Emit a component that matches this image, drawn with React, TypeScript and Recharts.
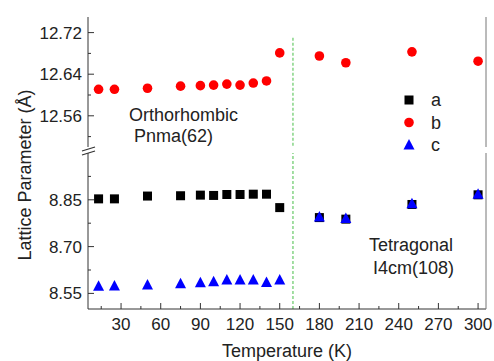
import React from 'react';
import { ScatterChart, Scatter, XAxis, YAxis, ReferenceLine, Legend } from 'recharts';

const temperatures = [13, 25, 50, 75, 90, 100, 110, 120, 130, 140, 150, 180, 200, 250, 300];
const paramA = [8.853, 8.853, 8.862, 8.863, 8.865, 8.864, 8.867, 8.867, 8.868, 8.868, 8.825, 8.793, 8.788, 8.835, 8.866];
const paramB = [12.611, 12.611, 12.613, 12.617, 12.618, 12.619, 12.621, 12.619, 12.623, 12.627, 12.681, 12.675, 12.662, 12.683, 12.665];
const paramC = [8.573, 8.574, 8.577, 8.581, 8.584, 8.587, 8.593, 8.593, 8.593, 8.585, 8.593, 8.795, 8.79, 8.837, 8.868];

const xMajor = [30, 60, 90, 120, 150, 180, 210, 240, 270, 300];
const xMinor = [15, 45, 75, 105, 135, 165, 195, 225, 255, 285];
const topMajor = [12.56, 12.64, 12.72];
const topMinor = [12.52, 12.6, 12.68];
const botMajor = [8.55, 8.7, 8.85];
const botMinor = [8.625, 8.775, 8.925];

const legendItems = [
  { key: 'a', color: '#000000', shape: 'square' },
  { key: 'b', color: '#ff0000', shape: 'circle' },
  { key: 'c', color: '#0000ff', shape: 'triangle' },
];

const W = 494;
const H = 361;
const PLOT_LEFT = 88;
const PLOT_BOTTOM = 309;
const X_DOMAIN: [number, number] = [5, 306];
const AXIS = '#333';
const FRAME = '#777';
const TEXT = '#222';
const FONT = '"Liberation Sans", Arial, sans-serif';

const toPoints = (vals: number[]) => temperatures.map((t, i) => ({ t, v: vals[i] }));
const dataA = toPoints(paramA);
const dataB = toPoints(paramB);
const dataC = toPoints(paramC);

const isIn = (list: number[], v: number) => list.some((m) => Math.abs(m - v) < 1e-6);

const makeYTick = (majors: number[]) => (props: any) => {
  const { y, payload } = props;
  const major = isIn(majors, payload.value);
  return (
    <g>
      <line x1={PLOT_LEFT} x2={PLOT_LEFT + (major ? 6 : 3)} y1={y} y2={y} stroke={AXIS} />
      {major && (
        <text x={PLOT_LEFT - 6} y={y + 6} textAnchor="end" fontSize={17} fill={TEXT}>
          {payload.value.toFixed(2)}
        </text>
      )}
    </g>
  );
};

const XTick = (props: any) => {
  const { x, payload } = props;
  const major = isIn(xMajor, payload.value);
  return (
    <g>
      <line x1={x} x2={x} y1={PLOT_BOTTOM} y2={PLOT_BOTTOM - (major ? 6 : 3)} stroke={AXIS} />
      {major && (
        <text x={x} y={PLOT_BOTTOM + 21} textAnchor="middle" fontSize={17} fill={TEXT}>
          {payload.value}
        </text>
      )}
    </g>
  );
};

const Marker = ({ shape, cx, cy, color }: { shape: string; cx: number; cy: number; color: string }) => {
  if (shape === 'square') return <rect x={cx - 4.5} y={cy - 4.5} width={9} height={9} fill={color} />;
  if (shape === 'circle') return <circle cx={cx} cy={cy} r={4.8} fill={color} />;
  return <polygon points={`${cx},${cy - 6} ${cx + 5.5},${cy + 4.5} ${cx - 5.5},${cy + 4.5}`} fill={color} />;
};

const LegendBox = () => (
  <svg width={60} height={70}>
    {legendItems.map((it, i) => (
      <g key={it.key}>
        <Marker shape={it.shape} cx={8} cy={10 + i * 22.5} color={it.color} />
        <text x={30} y={10 + i * 22.5 + 6} fontSize={18} fill={TEXT} fontFamily={FONT}>
          {it.key}
        </text>
      </g>
    ))}
  </svg>
);

export default function App() {
  const allX = [...xMinor, ...xMajor].sort((a, b) => a - b);
  return (
    <div style={{ position: 'absolute', left: 0, top: 0, width: W, height: H, background: '#fff', fontFamily: FONT }}>
      {/* lower segment (a, c) with the shared x axis */}
      <div style={{ position: 'absolute', left: 0, top: 0 }}>
        <ScatterChart width={W} height={H} margin={{ top: 153, right: 0, bottom: 0, left: 0 }}>
          <XAxis
            dataKey="t"
            type="number"
            domain={X_DOMAIN}
            ticks={allX}
            interval={0}
            height={52}
            tickLine={false}
            tick={XTick}
            stroke={AXIS}
            label={{ value: 'Temperature (K)', position: 'insideBottom', offset: 4, fontSize: 18, fill: TEXT }}
          />
          <YAxis
            dataKey="v"
            type="number"
            domain={[8.5, 9.0]}
            ticks={[...botMinor, ...botMajor].sort((a, b) => a - b)}
            interval={0}
            width={PLOT_LEFT}
            tickLine={false}
            tick={makeYTick(botMajor)}
            stroke={AXIS}
          />
          <YAxis yAxisId="frame" orientation="right" type="number" domain={[8.5, 9.0]} width={8} tick={false} tickLine={false} stroke={FRAME} />
          <ReferenceLine x={160} stroke="#85d485" strokeWidth={1.5} strokeDasharray="3 2" />
          <Scatter
            name="a"
            data={dataA}
            fill="#000000"
            isAnimationActive={false}
            shape={(p: any) => <Marker shape="square" cx={p.cx} cy={p.cy} color="#000000" />}
          />
          <Scatter
            name="c"
            data={dataC}
            fill="#0000ff"
            isAnimationActive={false}
            shape={(p: any) => <Marker shape="triangle" cx={p.cx} cy={p.cy} color="#0000ff" />}
          />
        </ScatterChart>
      </div>

      {/* upper segment (b) */}
      <div style={{ position: 'absolute', left: 0, top: 0 }}>
        <ScatterChart width={W} height={150} margin={{ top: 17, right: 0, bottom: 3, left: 0 }}>
          <XAxis dataKey="t" type="number" domain={X_DOMAIN} hide />
          <XAxis xAxisId="frame" orientation="top" type="number" domain={X_DOMAIN} height={0} tick={false} tickLine={false} stroke={FRAME} />
          <YAxis
            dataKey="v"
            type="number"
            domain={[12.5, 12.75]}
            ticks={[...topMinor, ...topMajor].sort((a, b) => a - b)}
            interval={0}
            width={PLOT_LEFT}
            tickLine={false}
            tick={makeYTick(topMajor)}
            stroke={AXIS}
          />
          <YAxis yAxisId="frame" orientation="right" type="number" domain={[12.5, 12.75]} width={8} tick={false} tickLine={false} stroke={FRAME} />
          <ReferenceLine
            segment={[{ x: 160, y: 12.71 }, { x: 160, y: 12.5 }]}
            stroke="#85d485"
            strokeWidth={1.5}
            strokeDasharray="3 2"
          />
          <Scatter
            name="b"
            data={dataB}
            fill="#ff0000"
            isAnimationActive={false}
            shape={(p: any) => <Marker shape="circle" cx={p.cx} cy={p.cy} color="#ff0000" />}
          />
          <Legend
            layout="horizontal"
            verticalAlign="middle"
            align="center"
            content={() => <LegendBox />}
            wrapperStyle={{ left: 401, top: 90, width: 60 }}
          />
        </ScatterChart>
      </div>

      {/* axis break marks */}
      <svg style={{ position: 'absolute', left: 78, top: 142 }} width={22} height={18}>
        <polygon points="4,9 17,5 17,9 4,13" fill="#fff" />
        <line x1={4} y1={9} x2={17} y2={5} stroke={AXIS} strokeWidth={1.2} />
        <line x1={4} y1={13} x2={17} y2={9} stroke={AXIS} strokeWidth={1.2} />
      </svg>

      <div
        style={{
          position: 'absolute',
          left: 25,
          top: 175,
          transform: 'translate(-50%, -50%) rotate(-90deg)',
          whiteSpace: 'nowrap',
          fontSize: 18,
          color: TEXT,
        }}
      >
        Lattice Parameter (Å)
      </div>

      <div style={{ position: 'absolute', left: 129, top: 105, fontSize: 18, lineHeight: '21px', color: TEXT }}>
        <div>Orthorhombic</div>
        <div style={{ paddingLeft: 5 }}>Pnma(62)</div>
      </div>

      <div style={{ position: 'absolute', left: 369, top: 234, fontSize: 18, lineHeight: '23px', color: TEXT }}>
        <div>Tetragonal</div>
        <div style={{ paddingLeft: 4 }}>I4cm(108)</div>
      </div>
    </div>
  );
}
